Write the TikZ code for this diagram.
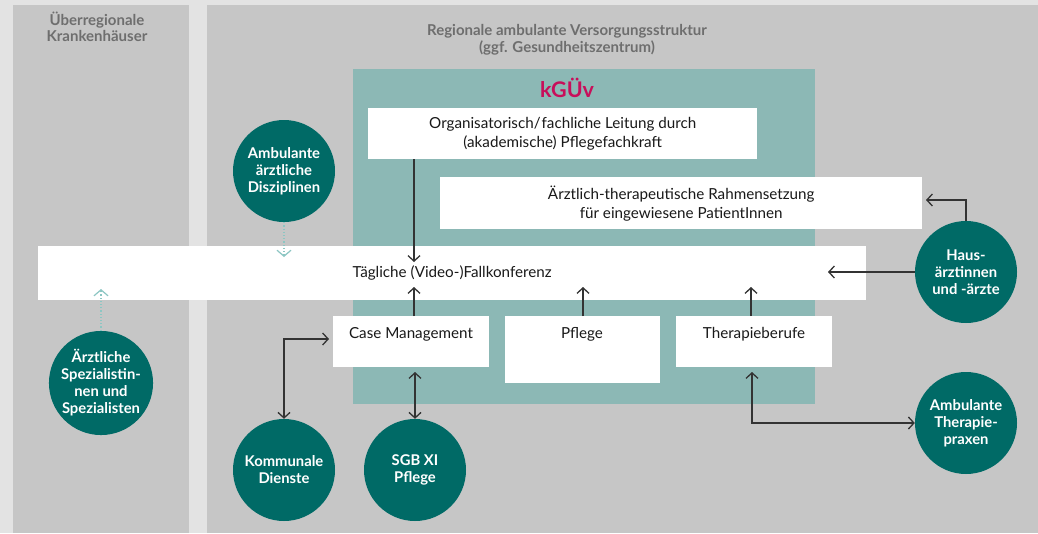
\documentclass[tikz,border=0pt]{standalone}
\usepackage{fontspec}
\setmainfont{Lato}
\usetikzlibrary{arrows.meta}

\definecolor{pagebg}{HTML}{E3E3E3}
\definecolor{panel}{HTML}{C6C6C6}
\definecolor{softteal}{HTML}{8CB8B5}
\definecolor{deepteal}{HTML}{006A66}
\definecolor{accent}{HTML}{C80E5A}
\definecolor{headgray}{HTML}{6E6E6E}
\definecolor{linegray}{HTML}{333333}
\definecolor{hintteal}{HTML}{8CC6C3}

\begin{document}
\begin{tikzpicture}[x=1pt,y=-1pt,
  box/.style={fill=white, draw=none, inner sep=0pt, anchor=north west,
    align=center, text=black!90, font=\fontsize{15.2}{19}\selectfont},
  boxlabel/.style={inner sep=0pt, text=black!90, font=\fontsize{15.2}{19}\selectfont},
  head/.style={inner sep=0pt, align=center, text=headgray,
    font=\bfseries\fontsize{15}{16.5}\selectfont},
  disc/.style={circle, fill=deepteal, minimum size=102pt, inner sep=0pt,
    text=white, align=center, font=\bfseries\fontsize{14.8}{17}\selectfont},
  link/.style={draw=linegray, line width=1.3pt, -{Straight Barb[length=5.5pt,width=12pt]}},
  both/.style={draw=linegray, line width=1.3pt,
    {Straight Barb[length=5.5pt,width=12pt]}-{Straight Barb[length=5.5pt,width=12pt]}},
  hint/.style={draw=hintteal, line width=1.2pt, dotted,
    -{Straight Barb[length=6pt,width=14pt]}}]

% page and the two areas
\fill[pagebg] (0,0) rectangle (1038,533);
\fill[panel] (13,5) rectangle (189,533);
\fill[panel] (207,5) rectangle (1038,533);
\useasboundingbox (0,0) rectangle (1038,533);

% headings of the two areas
\node[head] (hleft) at (97,27) {Überregionale\\Krankenhäuser};
\node[head] (hright) at (567,40) {Regionale ambulante Versorgungsstruktur\\(ggf. Gesundheitszentrum)};

% kGÜv frame
\fill[softteal] (353,69) rectangle (815,404);
\node[inner sep=0pt, text=accent, font=\bfseries\fontsize{21.5}{24}\selectfont] (kguev) at (567,88) {kGÜv};

% white boxes
\node[box, minimum width=389pt, minimum height=51pt] (org) at (368,108)
  {Organisatorisch/\kern1pt fachliche Leitung durch\\(akademische) Pflegefachkraft};
\node[box, minimum width=482pt, minimum height=52pt] (arzt) at (440,177)
  {Ärztlich-therapeutische Rahmensetzung\\für eingewiesene PatientInnen};
\node[box, minimum width=828pt, minimum height=54pt] (fall) at (38,246)
  {Tägliche (Video-)Fallkonferenz};
\node[box, minimum width=156pt, minimum height=51pt] (cm) at (333,316) {};
\node[box, minimum width=155pt, minimum height=67pt] (pfl) at (505,316) {};
\node[box, minimum width=156pt, minimum height=51pt] (ther) at (676,316) {};
\node[boxlabel] (cmlabel) at (411,334) {Case Management};
\node[boxlabel] (pfllabel) at (582,334) {Pflege};
\node[boxlabel] (therlabel) at (754,334) {Therapieberufe};

% external actors
\node[disc] (amb) at (284,171) {Ambulante\\ärztliche\\Disziplinen};
\node[disc] (spez) at (101,383) {Ärztliche\\Spezialistin-\\nen und\\Spezialisten};
\node[disc] (komm) at (284,470) {Kommunale\\Dienste};
\node[disc] (sgb) at (415,470) {SGB XI\\Pflege};
\node[disc] (haus) at (966,272) {Haus-\\ärztinnen\\und -ärzte};
\node[disc] (thp) at (966,423) {Ambulante\\Therapie-\\praxen};

% arrow ends
\coordinate (ambtip) at (284,257);
\coordinate (speztip) at (101,289);
\coordinate (orgtip) at (414,262);
\coordinate (cmtip) at (414,287);
\coordinate (pfltip) at (583,287);
\coordinate (thertip) at (751,287);
\coordinate (haustip) at (828,272);
\coordinate (arztin) at (926,200);
\coordinate (cmin) at (329,339);
\coordinate (sgbtop) at (415,372);
\coordinate (therbottom) at (752,372);

% connectors
\draw[hint] (amb.south) -- (ambtip);
\draw[hint] (spez.north) -- (speztip);
\draw[link] (org.south -| orgtip) -- (orgtip);
\draw[link] (cm.north -| cmtip) -- (cmtip);
\draw[link] (pfl.north -| pfltip) -- (pfltip);
\draw[link] (ther.north -| thertip) -- (thertip);
\draw[link] (haus.west) -- (haustip);
\draw[link] (haus.north) |- (arztin);
\draw[both] (komm.north) |- (cmin);
\draw[both] (sgb.north) -- (sgbtop);
\draw[both] (therbottom) |- (thp.west);
\end{tikzpicture}
\end{document}
